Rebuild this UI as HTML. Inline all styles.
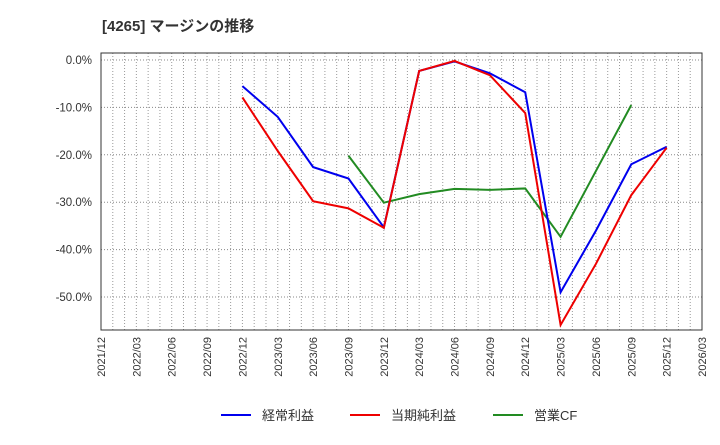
<!DOCTYPE html>
<html><head><meta charset="utf-8"><style>
body{margin:0;background:#fff;font-family:"Liberation Sans","Noto Sans CJK JP",sans-serif;}
</style></head><body>
<svg width="720" height="440" xmlns="http://www.w3.org/2000/svg" id="c">
<text x="102" y="31" font-size="15" font-weight="bold" fill="#333">[4265]  マージンの推移</text>
</svg>
<script>
const xLabels=["2021/12","2022/03","2022/06","2022/09","2022/12","2023/03","2023/06","2023/09","2023/12","2024/03","2024/06","2024/09","2024/12","2025/03","2025/06","2025/09","2025/12","2026/03"];
const yTicks=[0,-10,-20,-30,-40,-50];
const opIncome=[null,null,null,null,-5.5,-12,-22.6,-25,-35.3,-2.3,-0.3,-2.8,-6.8,-49,-36,-22,-18.3];
const netIncome=[null,null,null,null,-7.9,-19.2,-29.8,-31.3,-35.4,-2.3,-0.2,-3.2,-11.2,-55.9,-43,-28.5,-18.5];
const opCF=[null,null,null,null,null,null,null,-20.2,-30.1,-28.3,-27.2,-27.4,-27.1,-37.3,-23.4,-9.5,null];
const svg=document.getElementById('c');const NS="http://www.w3.org/2000/svg";
const L=101,R=702,T=53,B=330;
const xs=i=>L+(R-L)*i/17;
const ys=v=>60+(-v)*4.74;
function mk(t,a){const e=document.createElementNS(NS,t);for(const k in a)e.setAttribute(k,a[k]);svg.appendChild(e);return e;}
for(let m=1;m<51;m++){const x=L+(R-L)*m/51;const g=mk('line',{x1:x,x2:x,y1:T,y2:B,stroke:'#999','stroke-dasharray':'1,2','stroke-width':1});

}
yTicks.forEach(v=>{const y=ys(v);const g=mk('line',{x1:L,x2:R,y1:y,y2:y,stroke:'#888','stroke-dasharray':'1,2'});


const t=mk('text',{x:L-9,y:y+4,'text-anchor':'end','font-size':11.5,fill:'#333'});t.textContent=v.toFixed(1)+'%';

});
const fr=mk('rect',{x:L,y:T,width:R-L,height:B-T,fill:'none',stroke:'#333'});


xLabels.forEach((s,i)=>{const x=xs(i);const t=mk('text',{transform:`translate(${x+4},${B+7}) rotate(-90)`,'text-anchor':'end','font-size':11,fill:'#333'});t.textContent=s;

});
function series(d,c,n){let segs=[],cur=[];d.forEach((v,i)=>{if(v==null){if(cur.length)segs.push(cur);cur=[];}else cur.push(xs(i)+','+ys(v));});if(cur.length)segs.push(cur);
segs.forEach(s=>{const p=mk('polyline',{points:s.join(' '),fill:'none',stroke:c,'stroke-width':2});

});}
series(opCF,'#228B22','series-op-cf');
series(opIncome,'#0000ee','series-operating-margin');
series(netIncome,'#ee0000','series-net-margin');
const leg=[["経常利益","#0000ee",221],["当期純利益","#ee0000",350],["営業CF","#228B22",493]];
leg.forEach(([s,c,x])=>{const l=mk('line',{x1:x,x2:x+30,y1:415,y2:415,stroke:c,'stroke-width':2});


const t=mk('text',{x:x+41,y:420,'font-size':13,fill:'#333'});t.textContent=s;

});
</script>
</body></html>
